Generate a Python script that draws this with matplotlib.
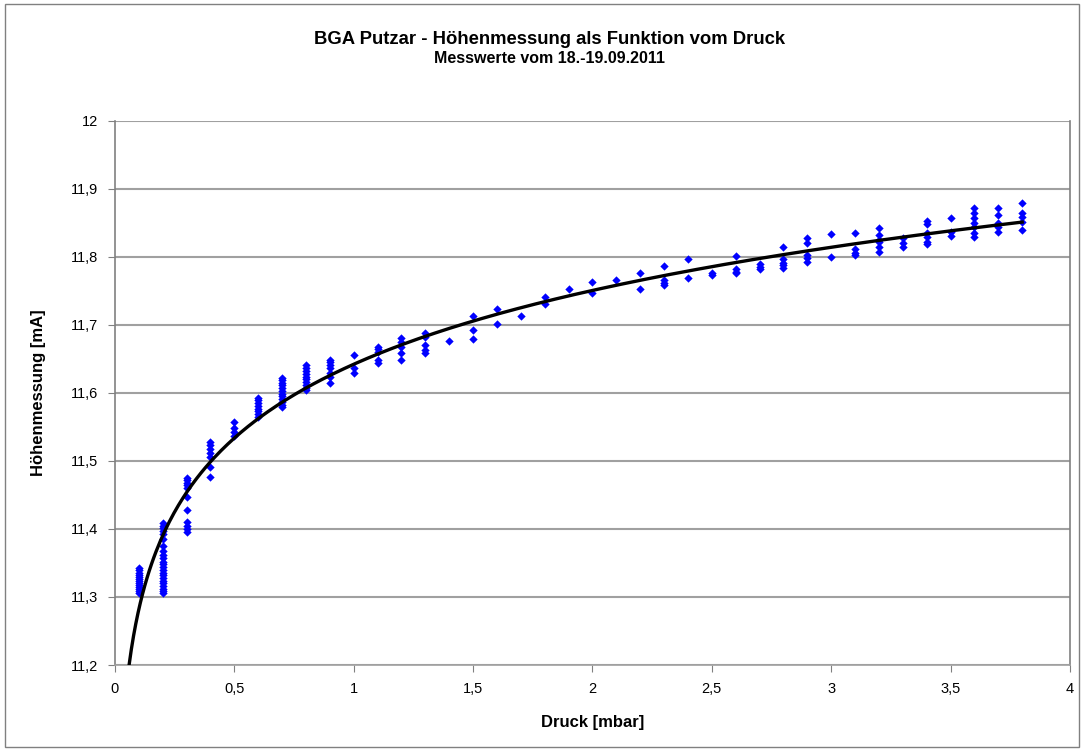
import numpy as np
import matplotlib
matplotlib.use('Agg')
import matplotlib.pyplot as plt
from matplotlib.ticker import FuncFormatter, MultipleLocator
from matplotlib.patches import Rectangle

plt.rcParams['font.family'] = ['Liberation Sans', 'DejaVu Sans']

werte = {
    0.1: [11.306, 11.309, 11.312, 11.315, 11.318, 11.321, 11.324, 11.327, 11.330, 11.333, 11.336, 11.339, 11.342],
    0.2: [11.306, 11.309, 11.312, 11.316, 11.320, 11.324, 11.328, 11.332, 11.336, 11.340, 11.344, 11.348,
          11.352, 11.357, 11.362, 11.368, 11.375, 11.385, 11.392, 11.397, 11.401, 11.405, 11.409],
    0.3: [11.396, 11.400, 11.405, 11.410, 11.428, 11.447, 11.460, 11.464, 11.468, 11.472, 11.475],
    0.4: [11.476, 11.491, 11.506, 11.512, 11.518, 11.523, 11.528],
    0.5: [11.537, 11.543, 11.549, 11.557],
    0.6: [11.565, 11.569, 11.573, 11.577, 11.581, 11.585, 11.589, 11.593],
    0.7: [11.579, 11.583, 11.587, 11.591, 11.595, 11.599, 11.603, 11.607, 11.611, 11.615, 11.619, 11.622],
    0.8: [11.604, 11.608, 11.612, 11.616, 11.620, 11.624, 11.628, 11.633, 11.637, 11.641],
    0.9: [11.615, 11.624, 11.630, 11.636, 11.641, 11.645, 11.649],
    1.0: [11.629, 11.637, 11.656],
    1.1: [11.644, 11.649, 11.660, 11.665, 11.668],
    1.2: [11.649, 11.659, 11.668, 11.675, 11.681],
    1.3: [11.659, 11.663, 11.671, 11.682, 11.688],
    1.4: [11.676],
    1.5: [11.679, 11.693, 11.713],
    1.6: [11.701, 11.724],
    1.7: [11.713],
    1.8: [11.731, 11.741],
    1.9: [11.753],
    2.0: [11.747, 11.763],
    2.1: [11.766],
    2.2: [11.753, 11.776],
    2.3: [11.759, 11.762, 11.766, 11.787],
    2.4: [11.769, 11.797],
    2.5: [11.773, 11.776],
    2.6: [11.776, 11.778, 11.782, 11.801],
    2.7: [11.782, 11.785, 11.790],
    2.8: [11.784, 11.788, 11.791, 11.797, 11.815],
    2.9: [11.793, 11.799, 11.803, 11.821, 11.828],
    3.0: [11.800, 11.834],
    3.1: [11.803, 11.806, 11.812, 11.835],
    3.2: [11.807, 11.815, 11.822, 11.825, 11.832, 11.843],
    3.3: [11.815, 11.821, 11.828],
    3.4: [11.819, 11.822, 11.829, 11.835, 11.849, 11.853],
    3.5: [11.831, 11.837, 11.857],
    3.6: [11.829, 11.835, 11.844, 11.850, 11.857, 11.865, 11.872],
    3.7: [11.837, 11.844, 11.850, 11.862, 11.872],
    3.8: [11.840, 11.851, 11.859, 11.865, 11.879],
}

druck = np.array([p for p, ys in werte.items() for _ in ys])
hoehe = np.array([y for ys in werte.values() for y in ys])

# logarithmic trendline like Excel
a, b = np.polyfit(np.log(druck), hoehe, 1)
xt = np.linspace(0.05, druck.max(), 400)
yt = a * np.log(xt) + b

fig = plt.figure(figsize=(10.84, 7.51), dpi=100)
ax = fig.add_axes([0.106, 0.1145, 0.881, 0.7245])

ax.yaxis.grid(True, color='#a0a0a0', lw=1.5)
ax.set_axisbelow(True)
ax.scatter(druck, hoehe, marker='D', s=18, color='#0000ff', lw=0, zorder=3)
ax.plot(xt, yt, color='black', lw=2.4, zorder=4)

ax.set_xlim(0, 4)
ax.set_ylim(11.2, 12)
ax.xaxis.set_major_locator(MultipleLocator(0.5))
ax.yaxis.set_major_locator(MultipleLocator(0.1))
ax.xaxis.set_major_formatter(FuncFormatter(lambda v, pos: f'{v:g}'.replace('.', ',')))
ax.yaxis.set_major_formatter(FuncFormatter(lambda v, pos: f'{v:.1f}'.replace('.', ',').replace(',0', '')))

ax.spines['top'].set_visible(False)
for s in ['left', 'bottom', 'right']:
    ax.spines[s].set_color('#808080')
    ax.spines[s].set_linewidth(1.2)
ax.spines['bottom'].set_color('#a0a0a0')
ax.tick_params(direction='out', length=5, color='#808080', labelsize=10.5, pad=7)

ax.set_xlabel('Druck [mbar]', fontsize=12, fontweight='bold', labelpad=14)
ax.set_ylabel('Höhenmessung [mA]', fontsize=12, fontweight='bold', labelpad=18)

fig.text(0.507, 0.947, 'BGA Putzar - Höhenmessung als Funktion vom Druck',
         ha='center', va='center', fontsize=13.3, fontweight='bold')
fig.text(0.507, 0.922, 'Messwerte vom 18.-19.09.2011',
         ha='center', va='center', fontsize=11.5, fontweight='bold')

fig.patches.append(Rectangle((0.005, 0.005), 0.99, 0.99, transform=fig.transFigure,
                             fill=False, edgecolor='#808080', lw=1))

fig.savefig('out.png', dpi=100)
